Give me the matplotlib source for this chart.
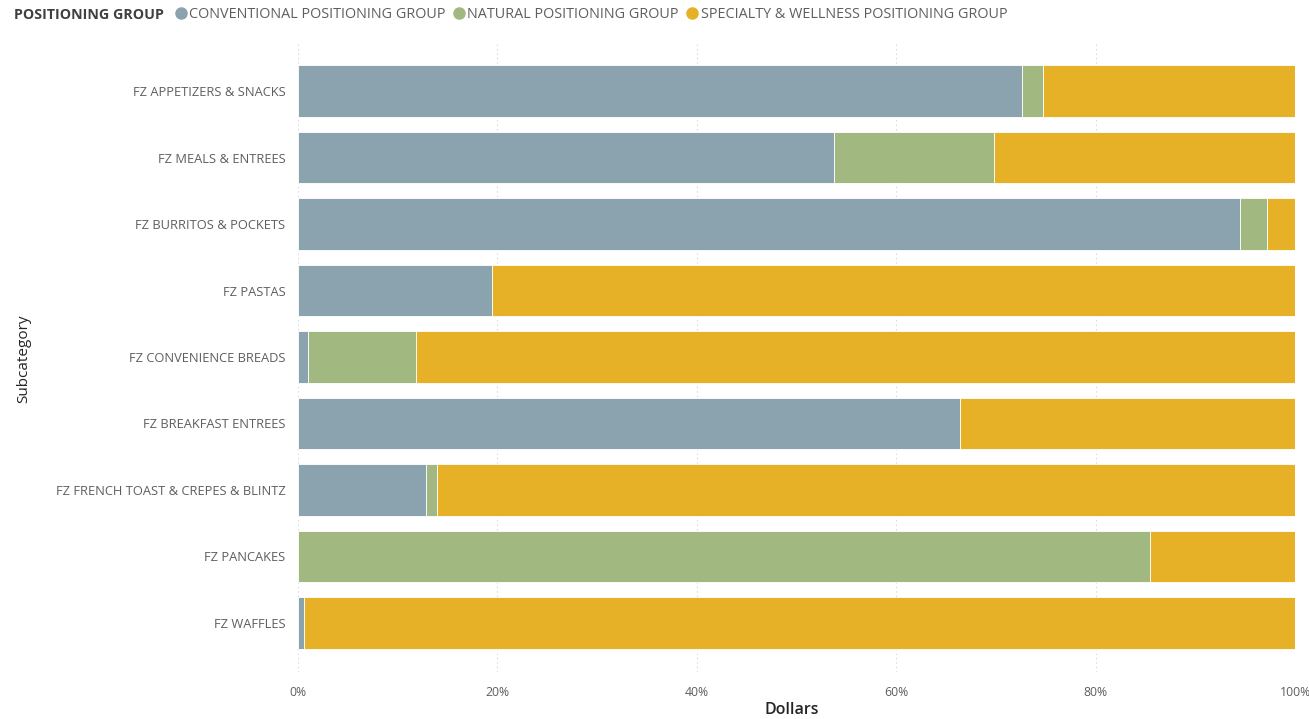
import numpy as np
import matplotlib.pyplot as plt
from matplotlib.ticker import PercentFormatter
from matplotlib.lines import Line2D

plt.rcParams['font.family'] = ['Open Sans', 'DejaVu Sans']

categories = ['FZ APPETIZERS & SNACKS', 'FZ MEALS & ENTREES', 'FZ BURRITOS & POCKETS',
              'FZ PASTAS', 'FZ CONVENIENCE BREADS', 'FZ BREAKFAST ENTREES',
              'FZ FRENCH TOAST & CREPES & BLINTZ', 'FZ PANCAKES', 'FZ WAFFLES']
conventional = [72.6, 53.8, 94.5, 19.5, 1.0, 66.4, 12.8, 0.0, 0.6]
natural = [2.1, 16.0, 2.7, 0.0, 10.8, 0.0, 1.1, 85.5, 0.0]
specialty = [25.3, 30.2, 2.8, 80.5, 88.2, 33.6, 86.1, 14.5, 99.4]

series_names = ['CONVENTIONAL POSITIONING GROUP', 'NATURAL POSITIONING GROUP',
                'SPECIALTY & WELLNESS POSITIONING GROUP']
colors = ['#8AA3AE', '#A1B981', '#E6B127']

fig = plt.figure(figsize=(13.09, 7.19), dpi=100)
ax = fig.add_axes([298/1309, 1-672/719, (1295-298)/1309, (672-42)/719])

y = np.arange(len(categories))
left = np.zeros(len(categories))
for vals, col in zip([conventional, natural, specialty], colors):
    ax.barh(y, vals, height=0.78, left=left, color=col, edgecolor='white', linewidth=0.6, zorder=3)
    left = left + np.array(vals)

ax.set_xlim(0, 100)
ax.set_ylim(8.737, -0.737)
ax.set_yticks(y)
ax.set_yticklabels(categories, fontsize=9.3, color='#605E5C')
ax.set_xticks([0, 20, 40, 60, 80, 100])
ax.xaxis.set_major_formatter(PercentFormatter(decimals=0))
ax.tick_params(axis='x', labelsize=8.8, labelcolor='#605E5C', length=0, pad=10)
ax.tick_params(axis='y', length=0, pad=9)
ax.grid(axis='x', color='#D0D0D0', linestyle=(0, (1, 3)), linewidth=0.8, zorder=0)
for s in ax.spines.values():
    s.set_visible(False)

ax.set_xlabel('Dollars', fontsize=11.5, color='#252423', fontweight='semibold')
ax.xaxis.set_label_coords(0.4955, -0.047)
ax.set_ylabel('Subcategory', fontsize=11, color='#252423')
ax.yaxis.set_label_coords(-0.268, 0.498)

fig.text(14/1309, 1-15/719, 'POSITIONING GROUP', fontsize=10.3, fontweight='bold',
         color='#404040', va='center', ha='left')
handles = [Line2D([], [], marker='o', linestyle='none', markersize=8, color=c) for c in colors]
fig.legend(handles, series_names, loc='center left', bbox_to_anchor=(172/1309, 1-15/719),
           ncol=3, frameon=False, fontsize=10.4, handletextpad=0.0, columnspacing=0.3,
           borderaxespad=0, borderpad=0, labelcolor='#605E5C', handlelength=1.2)

plt.savefig('out.png', dpi=100)
